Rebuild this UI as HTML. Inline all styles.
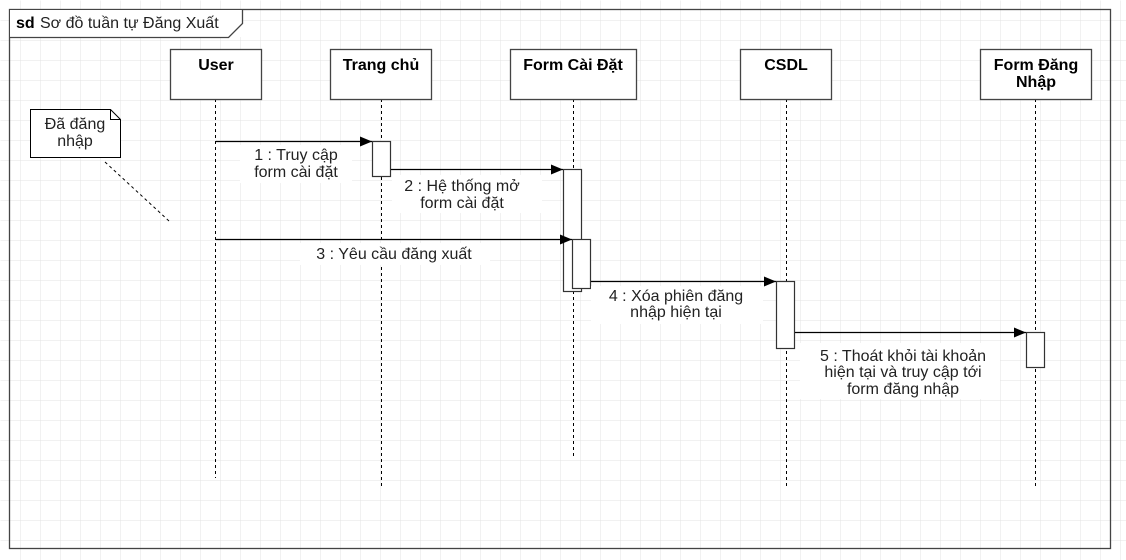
<!DOCTYPE html>
<html><head><meta charset="utf-8"><style>
html,body{margin:0;padding:0;background:#fff;}
svg{display:block;}
text{font-family:"Liberation Sans",sans-serif;font-size:16px;fill:#222;}
.b{font-weight:bold;fill:#000;}
</style></head><body>
<svg width="1126" height="560" xmlns="http://www.w3.org/2000/svg">
<defs>
<pattern id="g" width="20" height="20" patternUnits="userSpaceOnUse">
<path d="M20 0V20M0 20H20" fill="none" stroke="#e3e3e3" stroke-width="1"/>
</pattern>
<marker id="a" markerWidth="12" markerHeight="10" refX="12" refY="5" orient="auto" markerUnits="userSpaceOnUse"><path d="M0 0L12 5L0 10Z" fill="#000"/></marker>
</defs>
<rect x="0" y="0" width="1126" height="560" fill="url(#g)" transform="translate(0.5,0.5)"/>
<rect x="9.5" y="9.5" width="1101" height="539" fill="none" stroke="#444" stroke-width="1.3"/>
<rect x="10" y="10" width="232" height="27" fill="#fff"/>
<path d="M9.5 37.5H228.5L242.5 23.5V9.5" fill="none" stroke="#444" stroke-width="1.3"/>
<text x="16" y="28" class="b">sd</text><text x="40" y="28">Sơ đồ tuần tự Đăng Xuất</text>

<g stroke="#000" stroke-dasharray="3,3" stroke-width="1">
<line x1="215.5" y1="99" x2="215.5" y2="478"/>
<line x1="381.5" y1="99" x2="381.5" y2="486"/>
<line x1="573.5" y1="99" x2="573.5" y2="456"/>
<line x1="786.5" y1="99" x2="786.5" y2="486"/>
<line x1="1035.5" y1="99" x2="1035.5" y2="486"/>
</g>
<g fill="#fff" stroke="#444" stroke-width="1.3">
<rect x="170.5" y="49.5" width="91" height="50"/>
<rect x="330.5" y="49.5" width="101" height="50"/>
<rect x="510.5" y="49.5" width="126" height="50"/>
<rect x="740.5" y="49.5" width="91" height="50"/>
<rect x="980.5" y="49.5" width="111" height="50"/>
</g>
<g text-anchor="middle">
<text x="216" y="70" class="b">User</text>
<text x="381" y="70" class="b">Trang chủ</text>
<text x="573" y="70" class="b">Form Cài Đặt</text>
<text x="786" y="70" class="b">CSDL</text>
<text x="1036" y="70" class="b">Form Đăng</text>
<text x="1036" y="87" class="b">Nhập</text>
</g>
<path d="M30.5 109.5H110.5L120.5 119.5V157.5H30.5Z" fill="#fff" stroke="#000"/>
<path d="M110.5 109.5V119.5H120.5" fill="none" stroke="#000"/>
<text x="75" y="129" text-anchor="middle">Đã đăng</text>
<text x="75" y="146" text-anchor="middle">nhập</text>
<line x1="105" y1="162" x2="169" y2="221" stroke="#000" stroke-dasharray="3,3"/>

<g fill="#fff" stroke="#333" stroke-width="1.2">
<rect x="372.5" y="141.5" width="18" height="35"/>
<rect x="563.5" y="169.5" width="18" height="122"/>
<rect x="572.5" y="239.5" width="18" height="49"/>
<rect x="776.5" y="281.5" width="18" height="67"/>
<rect x="1026.5" y="332.5" width="18" height="35"/>
</g>
<g stroke="#000" stroke-width="1.2" marker-end="url(#a)">
<line x1="216" y1="141.5" x2="372" y2="141.5"/>
<line x1="391" y1="169.5" x2="563" y2="169.5"/>
<line x1="216" y1="239.5" x2="572" y2="239.5"/>
<line x1="591" y1="281.5" x2="776" y2="281.5"/>
<line x1="795" y1="332.5" x2="1026" y2="332.5"/>
</g>
<g fill="#fff">
<rect x="240" y="145" width="112" height="38"/>
<rect x="392" y="175" width="150" height="38"/>
<rect x="300" y="243" width="190" height="22"/>
<rect x="591" y="286" width="172" height="38"/>
<rect x="800" y="343" width="200" height="56"/>
</g>
<g text-anchor="middle">
<text x="296" y="160">1 : Truy cập</text>
<text x="296" y="177">form cài đặt</text>
<text x="462" y="191">2 : Hệ thống mở</text>
<text x="462" y="208">form cài đặt</text>
<text x="394" y="259">3 : Yêu cầu đăng xuất</text>
<text x="676" y="301">4 : Xóa phiên đăng</text>
<text x="676" y="317">nhập hiện tại</text>
<text x="903" y="361">5 : Thoát khỏi tài khoản</text>
<text x="903" y="377">hiện tại và truy cập tới</text>
<text x="903" y="394">form đăng nhập</text>
</g>
</svg>
</body></html>
